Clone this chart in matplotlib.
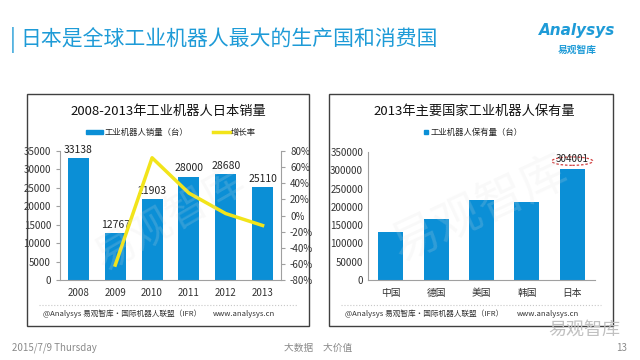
import matplotlib
matplotlib.use('Agg')
import matplotlib.pyplot as plt
from matplotlib.patches import Rectangle, Ellipse
from matplotlib.lines import Line2D
import numpy as np

plt.rcParams['font.family'] = ['Noto Sans CJK SC', 'DejaVu Sans']

# data
years = ['2008', '2009', '2010', '2011', '2012', '2013']
sales = [33138, 12767, 21903, 28000, 28680, 25110]
growth = [None, -0.615, 0.716, 0.278, 0.024, -0.124]

countries = ['中国', '德国', '美国', '韩国', '日本']
stock = [132000, 167000, 219500, 214500, 304001]

blue = '#0b8fd6'
yellow = '#f2e41a'
W, H = 640, 360

def fx(x):
    return x / W

def fy(y):
    return 1 - y / H

fig = plt.figure(figsize=(6.4, 3.6), dpi=100)
fig.patch.set_facecolor('white')

# slide header
fig.text(fx(10), fy(40), '|', color='#1e9bd7', fontsize=16, va='center', ha='left')
fig.text(fx(20), fy(40), '日本是全球工业机器人最大的生产国和消费国', color='#1e9bd7',
         fontsize=15, va='center', ha='left')
fig.text(fx(577), fy(30), 'Analysys', color='#1e9bd7', fontsize=11, style='italic',
         fontweight='bold', ha='center', va='center', family='DejaVu Sans')
fig.text(fx(577), fy(50), '易观智库', color='#1e9bd7', fontsize=7, fontweight='bold',
         ha='center', va='center')

# footer
fig.text(fx(12), fy(348), '2015/7/9 Thursday', color='#8a8a8a', fontsize=7, va='center')
fig.text(fx(318), fy(348), '大数据　大价值', color='#8a8a8a', fontsize=7, va='center', ha='center')
fig.text(fx(627), fy(348), '13', color='#8a8a8a', fontsize=7, va='center', ha='right')
fig.text(fx(620), fy(330), '易观智库', color='#c0c0c0', fontsize=13, va='center', ha='right')

# panel boxes
for x0, x1 in [(27, 309), (329, 613)]:
    fig.patches.append(Rectangle((fx(x0), fy(326)), fx(x1 - x0), (326 - 94) / H,
                                 transform=fig.transFigure, fill=False,
                                 edgecolor='#404040', linewidth=1.0))
    fig.lines.append(Line2D([fx(x0 + 12), fx(x1 - 12)], [fy(305), fy(305)],
                            transform=fig.transFigure, color='#c8c8c8',
                            linewidth=0.8, linestyle=':'))
    fig.text(fx(x0 + 16), fy(314), '@Analysys 易观智库·国际机器人联盟（IFR）',
             fontsize=5.5, color='#333333', va='center')
    fig.text(fx(x1 - 34), fy(314), 'www.analysys.cn', fontsize=5.5, color='#333333',
             va='center', ha='right')

def style_axis(ax):
    for s in ['top', 'right']:
        ax.spines[s].set_visible(False)
    ax.spines['left'].set_color('#a0a0a0')
    ax.spines['bottom'].set_color('#a0a0a0')
    ax.tick_params(axis='y', labelsize=7, colors='#333333', length=3, color='#a0a0a0')
    ax.tick_params(axis='x', labelsize=7, colors='#333333', length=0, pad=6)

# left chart
ax1 = fig.add_axes([fx(60), fy(280), fx(281 - 60), (280 - 151) / H])
x = np.arange(len(years))
ax1.bar(x, sales, width=0.57, color=blue, zorder=2)
ax1.set_ylim(0, 35000)
ax1.set_yticks(np.arange(0, 35001, 5000))
ax1.set_xlim(-0.5, len(years) - 0.5)
ax1.set_xticks(x)
ax1.set_xticklabels(years)
style_axis(ax1)
for xi, v in zip(x, sales):
    ax1.text(xi, v + 900, str(v), ha='center', va='bottom', fontsize=7.5, color='#222222')

ax2 = ax1.twinx()
gx = [xi for xi, g in zip(x, growth) if g is not None]
gy = [g for g in growth if g is not None]
ax2.plot(gx, gy, color=yellow, linewidth=2.5, zorder=3)
ax2.set_ylim(-0.8, 0.8)
ax2.set_yticks(np.arange(-0.8, 0.81, 0.2))
ax2.set_yticklabels(['%d%%' % round(t * 100) for t in np.arange(-0.8, 0.81, 0.2)])
for s in ['top', 'left', 'bottom']:
    ax2.spines[s].set_visible(False)
ax2.spines['right'].set_color('#a0a0a0')
ax2.tick_params(axis='y', labelsize=7, colors='#333333', length=3, color='#a0a0a0')

fig.text(fx(168), fy(111), '2008-2013年工业机器人日本销量', fontsize=9.5, ha='center',
         va='center', color='#111111')
fig.patches.append(Rectangle((fx(86), fy(134)), fx(17), 4 / H, transform=fig.transFigure,
                             color=blue))
fig.text(fx(105), fy(132), '工业机器人销量（台）', fontsize=6, va='center', color='#222222')
fig.lines.append(Line2D([fx(213), fx(230)], [fy(132), fy(132)], transform=fig.transFigure,
                        color=yellow, linewidth=2.5))
fig.text(fx(231), fy(132), '增长率', fontsize=6, va='center', color='#222222')

# right chart
ax3 = fig.add_axes([fx(368), fy(280), fx(595 - 368), (280 - 152) / H])
x3 = np.arange(len(countries))
ax3.bar(x3, stock, width=0.55, color=blue, zorder=2)
ax3.set_ylim(0, 350000)
ax3.set_yticks(np.arange(0, 350001, 50000))
ax3.set_xlim(-0.5, len(countries) - 0.5)
ax3.set_xticks(x3)
ax3.set_xticklabels(countries)
style_axis(ax3)
ax3.tick_params(axis='y', length=0)
ax3.text(x3[-1], stock[-1] + 12000, str(stock[-1]), ha='center', va='bottom', fontsize=7,
         color='#222222')
ax3.add_patch(Ellipse((x3[-1], stock[-1] + 21000), 0.9, 23000, fill=False,
                      edgecolor='#d04040', linestyle=(0, (2, 1.5)), linewidth=0.9,
                      clip_on=False))

fig.text(fx(474), fy(111), '2013年主要国家工业机器人保有量', fontsize=9.5, ha='center',
         va='center', color='#111111')
fig.patches.append(Rectangle((fx(424), fy(134)), 4 / W, 4 / H, transform=fig.transFigure,
                             color=blue))
fig.text(fx(431), fy(132), '工业机器人保有量（台）', fontsize=6, va='center', color='#222222')

# watermarks
fig.text(fx(170), fy(220), '易观智库', fontsize=30, color='#e0e0e0', alpha=0.18,
         rotation=30, ha='center', va='center')
fig.text(fx(480), fy(210), '易观智库', fontsize=34, color='#e0e0e0', alpha=0.18,
         rotation=25, ha='center', va='center')

fig.savefig('out.png', dpi=100)
